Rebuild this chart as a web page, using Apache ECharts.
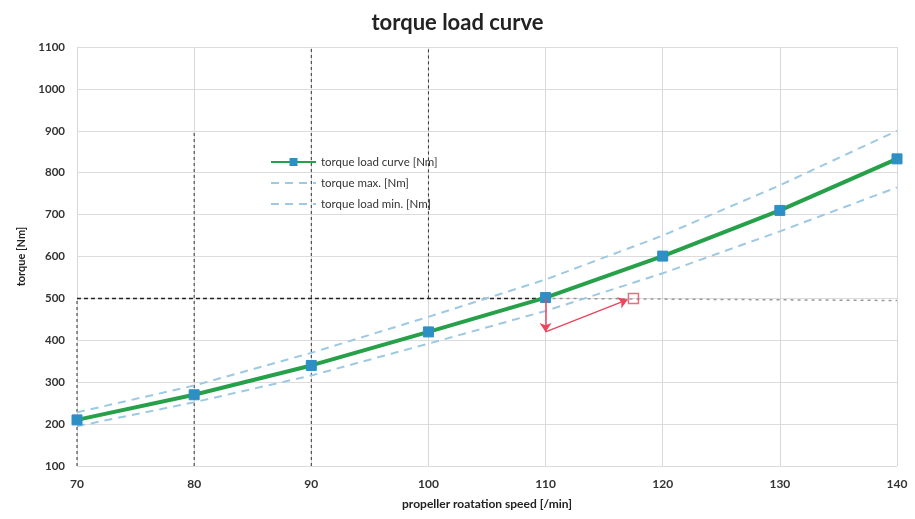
<!DOCTYPE html>
<html><head><meta charset="utf-8">
<script src="https://cdn.jsdelivr.net/npm/echarts@6/dist/echarts.min.js"></script>
<style>html,body{margin:0;padding:0;background:#fff}#c{width:915px;height:519px}</style>
</head><body><div id="c"></div>
<script>
const speeds = [70, 80, 90, 100, 110, 120, 130, 140];
const torqueLoad = [210, 270, 340, 420, 502, 601, 710, 833];
const torqueMax = [228, 292, 370, 456, 545, 650, 770, 900];
const torqueMin = [195, 252, 316, 392, 470, 560, 660, 765];
const xTicks = [70, 80, 90, 100, 110, 120, 130, 140];
const yTicks = [100, 200, 300, 400, 500, 600, 700, 800, 900, 1000, 1100];
const refLevel = [[70, 500], [110, 500]];
const refLevelRest = [[110, 500], [140, 495]];
const arrowDown = [[110, 500], [110, 420]];
const arrowUp = [[110, 420], [117, 497]];
const redBox = [[117.5, 500]];
const vGuides = [[80, 100, 900], [90, 100, 1100], [100, 500, 1100], [70, 100, 500]];

const F = 'Lato, "Open Sans", sans-serif';
const RED = '#e8475f';
const chart = echarts.init(document.getElementById('c'));
const guideSeries = vGuides.map(g => ({
  type: 'line', data: [[g[0], g[1]], [g[0], g[2]]], symbol: 'none', silent: true,
  lineStyle: { color: '#333', width: 1, type: [3, 3] }, z: 1
}));
const arrowLine = seg => [{ coord: seg[0] }, { coord: seg[1] }];
chart.setOption({
  animation: false,
  title: { text: 'torque load curve', left: 'center', top: 7,
    textStyle: { fontFamily: F, fontWeight: 'bold', fontSize: 22, color: '#222' } },
  grid: { left: 77, right: 18, top: 47, bottom: 53 },
  legend: {
    orient: 'vertical', left: 265, top: 151, itemGap: 9, itemWidth: 45, itemHeight: 10,
    textStyle: { fontFamily: F, fontSize: 11.5, color: '#333' },
    data: [
      { name: 'torque load curve [Nm]' },
      { name: 'torque max. [Nm]', itemStyle: { opacity: 0 } },
      { name: 'torque load min. [Nm]', itemStyle: { opacity: 0 } }
    ]
  },
  xAxis: {
    type: 'value', min: 70, max: 140, interval: 10,
    name: 'propeller roatation speed [/min]', nameLocation: 'middle', nameGap: 32,
    nameTextStyle: { fontFamily: F, fontWeight: 'bold', fontSize: 12, color: '#222' },
    axisLine: { show: false }, axisTick: { show: false },
    axisLabel: { fontFamily: F, fontWeight: 'bold', fontSize: 12, color: '#333', margin: 12,
      formatter: v => xTicks.includes(v) ? String(v) : '' },
    splitLine: { show: true, lineStyle: { color: '#d8d8d8', width: 1 } }
  },
  yAxis: {
    type: 'value', min: 100, max: 1100, interval: 100,
    name: 'torque [Nm]', nameLocation: 'middle', nameGap: 50, nameRotate: 90,
    nameTextStyle: { fontFamily: F, fontWeight: 'bold', fontSize: 11, color: '#222' },
    axisLine: { show: false }, axisTick: { show: false },
    axisLabel: { fontFamily: F, fontWeight: 'bold', fontSize: 11.5, color: '#333', margin: 12,
      formatter: v => yTicks.includes(v) ? String(v) : '' },
    splitLine: { show: true, lineStyle: { color: '#dcdcdc', width: 1 } }
  },
  series: [
    ...guideSeries,
    { type: 'line', data: refLevel, symbol: 'none', silent: true, z: 2,
      lineStyle: { color: '#222', width: 1.5, type: [4, 3] } },
    { type: 'line', data: refLevelRest, symbol: 'none', silent: true, z: 2,
      lineStyle: { color: '#999', width: 1.5, type: [3, 4] } },
    { name: 'torque max. [Nm]', type: 'line', data: speeds.map((s, i) => [s, torqueMax[i]]),
      symbol: 'none', z: 3, lineStyle: { color: '#9ec9e2', width: 2, type: [8, 6] },
      itemStyle: { color: '#9ec9e2' } },
    { name: 'torque load min. [Nm]', type: 'line', data: speeds.map((s, i) => [s, torqueMin[i]]),
      symbol: 'none', z: 3, lineStyle: { color: '#9ec9e2', width: 2, type: [8, 6] },
      itemStyle: { color: '#9ec9e2' } },
    { name: 'torque load curve [Nm]', type: 'line', data: speeds.map((s, i) => [s, torqueLoad[i]]),
      symbol: 'rect', symbolSize: 10, z: 5,
      lineStyle: { color: '#27a04a', width: 4 },
      itemStyle: { color: '#2e8fc4', borderColor: '#2e8fc4' } },
    { type: 'scatter', data: redBox, symbol: 'rect', symbolSize: 10, silent: true, z: 6,
      itemStyle: { color: 'rgba(255,255,255,0)', borderColor: RED, borderWidth: 1.5 },
      markLine: { silent: true, symbol: ['none', 'arrow'], symbolSize: 9, label: { show: false },
        lineStyle: { color: RED, width: 1.5, type: 'solid' }, z: 6,
        data: [arrowLine(arrowDown), arrowLine(arrowUp)] } }
  ]
});
</script></body></html>
